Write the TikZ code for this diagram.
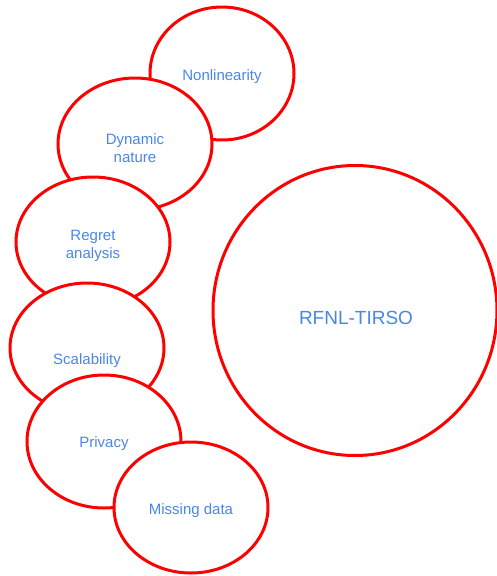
\documentclass[tikz,border=0pt]{standalone}
\usepackage{fontspec}
\setmainfont{Liberation Sans}
\definecolor{lblue}{HTML}{4A86E8}
\definecolor{bred}{HTML}{FF0000}
\tikzset{
  topic/.style={draw=bred, line width=3pt, fill=white},
  lbl/.style={text=lblue, font=\fontsize{15}{17.5}\selectfont, align=center, inner sep=0pt},
  biglbl/.style={text=lblue, font=\fontsize{19}{22}\selectfont, align=center, inner sep=0pt}
}
\begin{document}
\begin{tikzpicture}[x=1pt, y=-1pt]
\useasboundingbox (0,0) rectangle (497,576);
% main circle
\draw[topic] (355,310.5) ellipse [x radius=142, y radius=145];
\node[biglbl] (main) at (356,317.5) {RFNL-TIRSO};
% stacked ellipses, later ones on top
\draw[topic] (222,73.5) ellipse [x radius=72, y radius=66.5];
\node[lbl] (nonlin) at (222,76.5) {Nonlinearity};
\draw[topic] (135,144) ellipse [x radius=77, y radius=66];
\node[lbl] (dyn) at (135,148) {Dynamic\\nature};
\draw[topic] (93,242) ellipse [x radius=77, y radius=65];
\node[lbl] (regret) at (93,246) {Regret\\analysis};
\draw[topic] (87,348) ellipse [x radius=77, y radius=65];
\node[lbl] (scal) at (87,360.5) {Scalability};
\draw[topic] (104,441.5) ellipse [x radius=77, y radius=66.5];
\node[lbl] (priv) at (104,443.5) {Privacy};
\draw[topic] (191,507.5) ellipse [x radius=77, y radius=65.5];
\node[lbl] (miss) at (191,510.5) {Missing data};
\end{tikzpicture}
\end{document}
